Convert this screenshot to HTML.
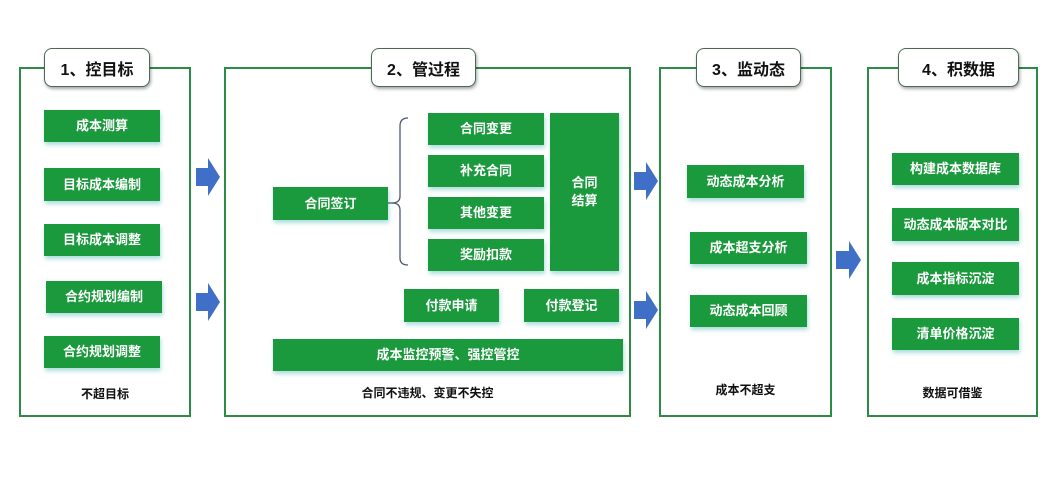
<!DOCTYPE html>
<html><head><meta charset="utf-8"><style>
body{margin:0;width:1059px;height:481px;background:#fff;position:relative;overflow:hidden;font-family:"Liberation Sans","Noto Sans CJK SC",sans-serif;}
.p{position:absolute;border:2px solid #2e8b45;box-sizing:border-box;}
.l{position:absolute;background:#fff;border:1.5px solid #4a6a55;border-radius:8px;box-sizing:border-box;font-weight:bold;font-size:16px;color:#111;display:flex;align-items:center;justify-content:center;box-shadow:1px 2px 3px rgba(0,0,0,.35);}
.b{position:absolute;background:#1a9a3c;color:#fff;font-weight:bold;font-size:13px;display:flex;align-items:center;justify-content:center;text-align:center;box-sizing:border-box;box-shadow:1px 3px 4px rgba(120,200,200,.6);line-height:1.35;}
.t{position:absolute;font-size:12px;font-weight:bold;color:#111;text-align:center;}
svg{position:absolute;left:0;top:0;}
</style></head><body>
<div class="p" style="left:19px;top:67px;width:172px;height:350px"></div>
<div class="p" style="left:224px;top:67px;width:407px;height:350px"></div>
<div class="p" style="left:659px;top:67px;width:173px;height:350px"></div>
<div class="p" style="left:867px;top:67px;width:171px;height:350px"></div>
<div class="l" style="left:44px;top:48px;width:106px;height:39px">1、控目标</div>
<div class="l" style="left:371px;top:48px;width:105px;height:39px">2、管过程</div>
<div class="l" style="left:696px;top:48px;width:105px;height:39px">3、监动态</div>
<div class="l" style="left:898px;top:48px;width:121px;height:39px">4、积数据</div>

<div class="b" style="left:44px;top:110px;width:116px;height:32px">成本测算</div>
<div class="b" style="left:44px;top:168px;width:116px;height:33px">目标成本编制</div>
<div class="b" style="left:44px;top:224px;width:116px;height:32px">目标成本调整</div>
<div class="b" style="left:46px;top:281px;width:116px;height:32px">合约规划编制</div>
<div class="b" style="left:44px;top:336px;width:116px;height:32px">合约规划调整</div>
<div class="t" style="left:19px;top:385px;width:172px">不超目标</div>

<div class="b" style="left:273px;top:187px;width:115px;height:33px">合同签订</div>
<div class="b" style="left:428px;top:113px;width:116px;height:32px">合同变更</div>
<div class="b" style="left:428px;top:155px;width:116px;height:32px">补充合同</div>
<div class="b" style="left:428px;top:197px;width:116px;height:32px">其他变更</div>
<div class="b" style="left:428px;top:239px;width:116px;height:32px">奖励扣款</div>
<div class="b" style="left:550px;top:113px;width:69px;height:158px">合同<br>结算</div>
<div class="b" style="left:404px;top:289px;width:95px;height:33px">付款申请</div>
<div class="b" style="left:524px;top:289px;width:95px;height:33px">付款登记</div>
<div class="b" style="left:273px;top:339px;width:350px;height:32px">成本监控预警、强控管控</div>
<div class="t" style="left:224px;top:384px;width:407px">合同不违规、变更不失控</div>

<div class="b" style="left:687px;top:165px;width:117px;height:33px">动态成本分析</div>
<div class="b" style="left:690px;top:232px;width:117px;height:32px">成本超支分析</div>
<div class="b" style="left:690px;top:295px;width:117px;height:32px">动态成本回顾</div>
<div class="t" style="left:659px;top:381px;width:173px">成本不超支</div>

<div class="b" style="left:892px;top:153px;width:127px;height:32px">构建成本数据库</div>
<div class="b" style="left:892px;top:208px;width:127px;height:33px">动态成本版本对比</div>
<div class="b" style="left:892px;top:262px;width:127px;height:33px">成本指标沉淀</div>
<div class="b" style="left:892px;top:318px;width:127px;height:32px">清单价格沉淀</div>
<div class="t" style="left:867px;top:384px;width:171px">数据可借鉴</div>

<svg width="1059" height="481">
<path d="M408,118 Q400,118 400,126 L400,196 Q400,203 392,203 Q400,203 400,210 L400,258 Q400,265 408,265" fill="none" stroke="#4a5a70" stroke-width="1.3"/>
<line x1="388" y1="203" x2="393" y2="203" stroke="#4a5a70" stroke-width="1.3"/>
<g fill="#3f6fc6">
<path d="M196,168 h12 v-10 l12,19 l-12,19 v-10 h-12z"/>
<path d="M196,293 h12 v-10 l12,19 l-12,19 v-10 h-12z"/>
<path d="M634,172 h12 v-10 l12,19 l-12,19 v-10 h-12z"/>
<path d="M634,301 h12 v-10 l12,19 l-12,19 v-10 h-12z"/>
<path d="M836,251 h13 v-10 l12,19 l-12,19 v-10 h-13z"/>
</g>
</svg>
</body></html>
